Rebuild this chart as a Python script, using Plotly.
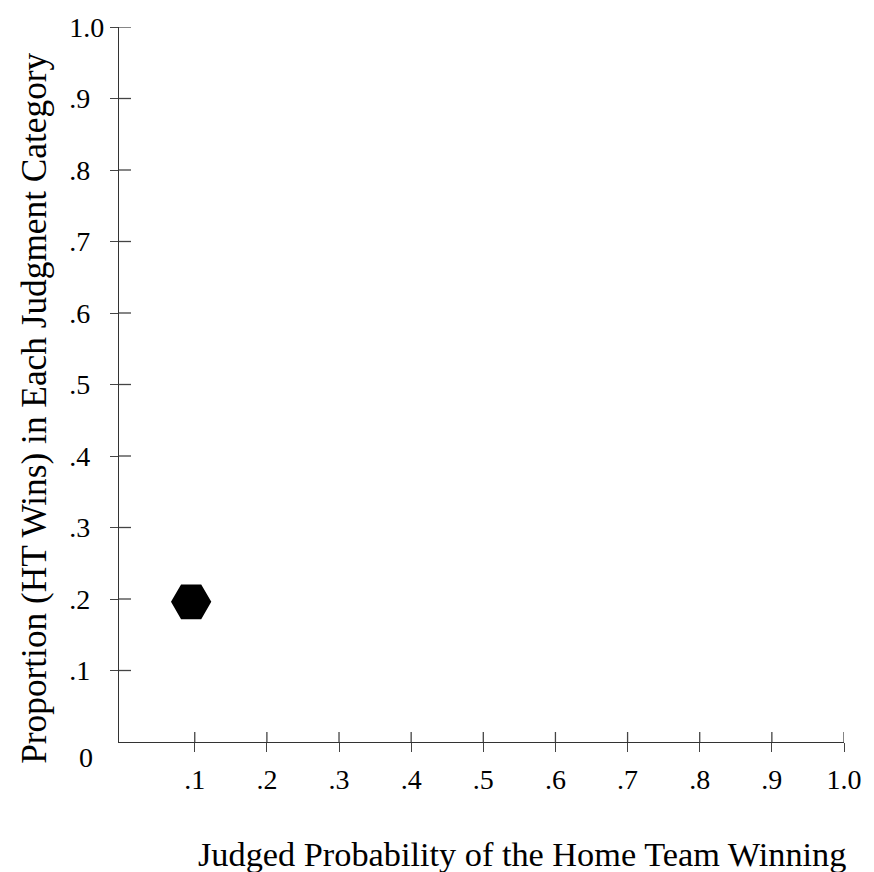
import plotly.graph_objects as go

# Observed proportion of home-team wins for each judged-probability category
judged_prob = [0.095]
proportion_ht_wins = [0.196]

tick_vals = [0.1, 0.2, 0.3, 0.4, 0.5, 0.6, 0.7, 0.8, 0.9, 1.0]
tick_text = [".1", ".2", ".3", ".4", ".5", ".6", ".7", ".8", ".9", "1.0"]
# y labels share a left edge: the short ones get a figure-space pad
y_tick_text = [t if len(t) > 2 else t + "\u2007" for t in tick_text]
origin_label = "0"

x_title = "Judged Probability of the Home Team Winning"
y_title = "Proportion (HT Wins) in Each Judgment Category"

FONT = "Liberation Serif"
X_RANGE = [-0.005, 1.0]
Y_RANGE = [0.0, 1.0]
TICK_COLOR = "#444"

fig = go.Figure()
fig.add_trace(go.Scatter(
    x=judged_prob, y=proportion_ht_wins, mode="markers",
    marker=dict(symbol="hexagon2", size=38, color="black",
                line=dict(color="black", width=2)),
    showlegend=False, hoverinfo="skip",
))

# inner halves of the crossing tick marks (outer halves come from the axes)
for v in tick_vals:
    fig.add_shape(type="line", xref="x", yref="y", x0=v, x1=v,
                  ysizemode="pixel", yanchor=Y_RANGE[0], y0=0, y1=10,
                  line=dict(color=TICK_COLOR, width=1.3), layer="above")
    fig.add_shape(type="line", xref="x", yref="y", y0=v, y1=v,
                  xsizemode="pixel", xanchor=X_RANGE[0], x0=0, x1=12,
                  line=dict(color=TICK_COLOR, width=1.3), layer="above")

tick_font = dict(family=FONT, size=28, color="black")
axis_common = dict(showgrid=False, zeroline=False, tickcolor=TICK_COLOR,
                   tickwidth=1.3, tickfont=tick_font)

fig.update_layout(
    width=874, height=872,
    margin=dict(l=119, r=26, t=17, b=130),
    paper_bgcolor="white", plot_bgcolor="white",
    font=dict(family=FONT, color="black"),
    xaxis=dict(range=X_RANGE, tickvals=tick_vals, ticktext=tick_text,
               ticks="outside", ticklen=9, showline=True, linecolor="#333",
               linewidth=1.3, ticklabelstandoff=3, **axis_common),
    yaxis=dict(range=Y_RANGE, tickvals=tick_vals, ticktext=y_tick_text,
               ticks="outside", ticklen=8, showline=True, linecolor="#333",
               linewidth=1.3, ticklabelstandoff=0, **axis_common),
    annotations=[
        dict(text=origin_label, xref="paper", yref="paper", x=-0.045, y=-0.021,
             xanchor="center", yanchor="middle", showarrow=False,
             font=tick_font),
        dict(text=x_title, xref="paper", yref="paper", x=0.556, y=-0.156,
             xanchor="center", yanchor="middle", showarrow=False,
             font=dict(family=FONT, size=34.3, color="black")),
        dict(text=y_title, xref="paper", yref="paper", x=-0.117, y=0.4663,
             xanchor="center", yanchor="middle", showarrow=False, textangle=-90,
             font=dict(family=FONT, size=35.3, color="black")),
    ],
)

fig.write_html("out.html")
